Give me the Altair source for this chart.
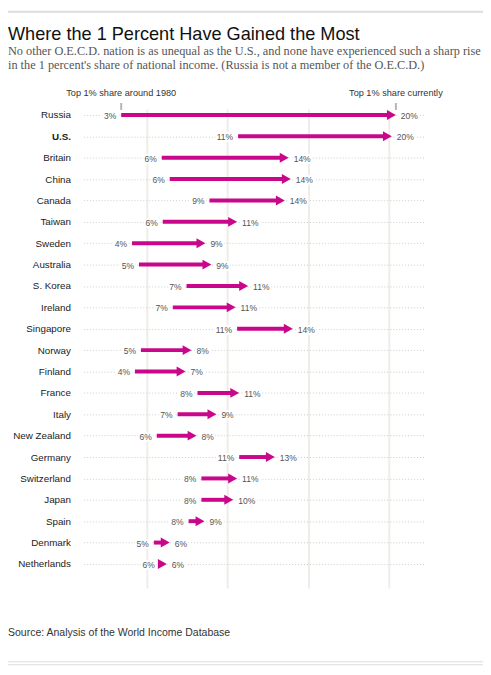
import altair as alt
import pandas as pd

# ---------------- data ----------------
countries = ["Russia", "U.S.", "Britain", "China", "Canada", "Taiwan", "Sweden",
             "Australia", "S. Korea", "Ireland", "Singapore", "Norway", "Finland",
             "France", "Italy", "New Zealand", "Germany", "Switzerland", "Japan",
             "Spain", "Denmark", "Netherlands"]
share_1980 = [3.44, 10.67, 5.95, 6.44, 8.90, 6.01, 4.11, 4.54, 7.48, 6.63, 10.61,
              4.66, 4.29, 8.16, 6.93, 5.64, 10.74, 8.40, 8.40, 7.61, 5.46, 5.83]
share_now = [20.43, 20.18, 13.80, 13.93, 13.56, 10.61, 8.65, 9.02, 11.29, 10.52, 14.05,
             7.79, 7.42, 10.74, 9.33, 8.10, 12.94, 10.61, 10.37, 8.59, 6.44, 6.26]
grid_ticks = [5, 10, 15, 20]
header_labels = ["Top 1% share around 1980", "Top 1% share currently"]
title_text = "Where the 1 Percent Have Gained the Most"
subtitle_text = ("No other O.E.C.D. nation is as unequal as the U.S., and none have experienced such a sharp rise\n"
                 "in the 1 percent's share of national income. (Russia is not a member of the O.E.C.D.)")
source_text = "Source: Analysis of the World Income Database"

df = pd.DataFrame({"country": countries, "start": share_1980, "end": share_now})
header_df = pd.DataFrame({"value": [share_1980[0], share_now[0]], "label": header_labels})

# ---------------- style ----------------
W, H = 344, 483
MAGENTA = "#c8078a"
SANS = "Liberation Sans"
SERIF = "Liberation Serif"

x_scale = alt.Scale(domain=[1.1, 22.2], nice=False, zero=False)
y_scale = alt.Scale(type="point", padding=0.7, align=0.2)

y_axis = alt.Axis(
    title=None, domain=False, ticks=False, labelPadding=13, labelFontSize=9.9,
    labelFont=SANS, labelColor="#222",
    labelFontWeight=alt.condition("datum.value == 'U.S.'", alt.value("bold"), alt.value("normal")),
    grid=True, gridColor="#cccccc", gridDash=[1, 2], gridWidth=1,
)
x_axis = alt.Axis(values=grid_ticks, grid=True, gridColor="#efede7", gridWidth=2,
                  labels=False, ticks=False, domain=False, title=None)


def yenc():
    return alt.Y("country:N", sort=countries, scale=y_scale, axis=y_axis)


def xenc(field):
    return alt.X(field, scale=x_scale, axis=x_axis)


# shafts
shaft = alt.Chart(df).mark_rule(color=MAGENTA, strokeWidth=4, x2Offset=-7).encode(
    x=xenc("start:Q"), x2="end:Q", y=yenc())

# heads
head = alt.Chart(df).mark_point(
    shape="M -1.8 -1 L 0 0 L -1.8 1 Z", size=100, filled=True, color=MAGENTA,
    opacity=1, strokeWidth=0,
).encode(x=xenc("end:Q"), y=yenc())

lab = alt.Chart(df).transform_calculate(
    s_lab="format(datum.start, '.0f') + '%'",
    e_lab="format(datum.end, '.0f') + '%'",
)
txt_common = dict(font=SANS, fontSize=8.6, baseline="middle", dy=1)

start_halo = lab.mark_text(align="right", dx=-5, color="white", stroke="white",
                           strokeWidth=4, **txt_common).encode(
    x=xenc("start:Q"), y=yenc(), text="s_lab:N")
start_txt = lab.mark_text(align="right", dx=-5, color="#555", **txt_common).encode(
    x=xenc("start:Q"), y=yenc(), text="s_lab:N")
end_halo = lab.mark_text(align="left", dx=5, color="white", stroke="white",
                         strokeWidth=4, **txt_common).encode(
    x=xenc("end:Q"), y=yenc(), text="e_lab:N")
end_txt = lab.mark_text(align="left", dx=5, color="#555", **txt_common).encode(
    x=xenc("end:Q"), y=yenc(), text="e_lab:N")

# column headers (anchored on Russia's values)
headers = alt.Chart(header_df).mark_text(
    align="center", baseline="alphabetic", font=SANS, fontSize=9.25, color="#333"
).encode(x=xenc("value:Q"), y=alt.value(-13), text="label:N")
header_ticks = alt.Chart(header_df).mark_rule(color="#b5b5b5", strokeWidth=2).encode(
    x=xenc("value:Q"), y=alt.value(-6), y2=alt.value(1))

# title block & source
title = alt.Chart(pd.DataFrame({"t": [title_text]})).mark_text(
    align="left", baseline="alphabetic", font=SANS, fontSize=18.3, color="#111"
).encode(x=alt.value(-76), y=alt.value(-70), text="t:N")
subtitle = alt.Chart(pd.DataFrame({"t": [subtitle_text]})).mark_text(
    align="left", baseline="alphabetic", font=SERIF, fontSize=12.4, color="#555",
    lineBreak="\n", lineHeight=13.5,
).encode(x=alt.value(-76), y=alt.value(-54), text="t:N")
source = alt.Chart(pd.DataFrame({"t": [source_text]})).mark_text(
    align="left", baseline="alphabetic", font=SANS, fontSize=10.6, color="#333"
).encode(x=alt.value(-76), y=alt.value(531), text="t:N")

one = pd.DataFrame({"k": [0]})
top_rule = alt.Chart(one).mark_rule(color="#dddddd", strokeWidth=2).encode(
    x=alt.value(-76), x2=alt.value(403), y=alt.value(-98))
bot_rule1 = alt.Chart(one).mark_rule(color="#dddddd", strokeWidth=1).encode(
    x=alt.value(-76), x2=alt.value(403), y=alt.value(557.5))
bot_rule2 = alt.Chart(one).mark_rule(color="#dddddd", strokeWidth=1).encode(
    x=alt.value(-76), x2=alt.value(403), y=alt.value(560.5))

chart = alt.layer(
    shaft, head, start_halo, start_txt, end_halo, end_txt,
    headers, header_ticks, title, subtitle, source, top_rule, bot_rule1, bot_rule2,
).properties(
    width=W, height=H,
    autosize=alt.AutoSizeParams(type="none"),
    padding={"left": 76, "top": 99, "right": 59, "bottom": 80},
    background="white",
).configure_view(stroke=None)

chart.save("out.html", embed_options={"renderer": "svg", "actions": False})
